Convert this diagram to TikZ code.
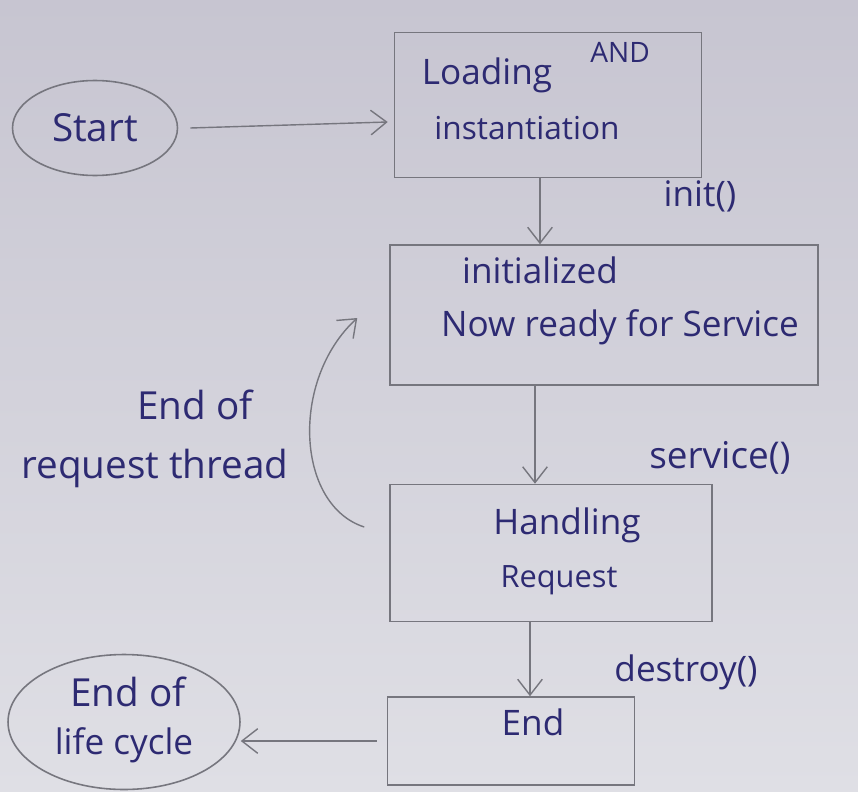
\documentclass[tikz,border=0pt]{standalone}
\usepackage{fontspec}
\setmainfont{Open Sans}
\usetikzlibrary{shapes.geometric,arrows.meta,calc}
\definecolor{papertop}{HTML}{C7C5D1}
\definecolor{paperbot}{HTML}{DFDFE5}
\definecolor{pencil}{HTML}{76767E}
\definecolor{ink}{HTML}{2D2A72}
\tikzset{
  box/.style={draw=pencil, line width=0.9pt, rectangle, inner sep=0pt},
  bubble/.style={draw=pencil, line width=0.9pt, ellipse, inner sep=0pt},
  word/.style={text=ink, inner sep=0pt, font=\fontsize{20}{24}\selectfont},
  arr/.style={draw=pencil, line width=0.8pt, -{Straight Barb[length=9pt,width=14pt]}},
}
\begin{document}
\begin{tikzpicture}[x=0.02cm,y=-0.02cm]
% paper
\shade[top color=papertop, bottom color=paperbot] (0,0) rectangle (858,791);
\useasboundingbox (0,0) rectangle (858,791);

% shapes
\node[bubble, minimum width=3.3cm, minimum height=1.9cm] (start) at (95,128) {};
\node[box, minimum width=6.14cm, minimum height=2.9cm] (load) at (548,105) {};
\node[box, minimum width=8.56cm, minimum height=2.8cm] (init) at (604,315) {};
\node[box, minimum width=6.44cm, minimum height=2.74cm] (handle) at (551,553) {};
\node[box, minimum width=4.94cm, minimum height=1.76cm] (endbox) at (511,741) {};
\node[bubble, minimum width=4.64cm, minimum height=2.7cm] (life) at (124,722) {};

% texts
\node[word, font=\fontsize{22}{26}\selectfont] (tstart) at (95,128) {Start};
\node[word] (tload) at (487,75) {Loading};
\node[word, font=\fontsize{16}{19}\selectfont] (tand) at (620,52) {AND};
\node[word, font=\fontsize{18}{22}\selectfont] (tinst) at (527,128) {instantiation};
\node[word] (tinit) at (540,270) {initialized};
\node[word] (tready) at (620,327) {Now ready for Service};
\node[word] (thand) at (567,525) {Handling};
\node[word, font=\fontsize{17.5}{20}\selectfont] (treq) at (559,580) {Request};
\node[word] (tend) at (533,722) {End};
\node[word, font=\fontsize{22}{26}\selectfont] (tlife1) at (128,692) {End of};
\node[word] (tlife2) at (124,745) {life cycle};
\node[word, font=\fontsize{22}{26}\selectfont] (tthr1) at (195,405) {End of};
\node[word, font=\fontsize{22}{26}\selectfont] (tthr2) at (155,468) {request thread};

% method labels
\node[word] (linit) at (700,196) {init()};
\node[word, font=\fontsize{21}{25}\selectfont] (lserv) at (720,458) {service()};
\node[word] (ldest) at (686,672) {destroy()};

% connector end points
\coordinate (s0) at ($(start.east)+(12,0)$);
\coordinate (s1) at ($(load.west)+(-6,17)$);
\coordinate (a0) at ($(load.south)+(-8,0)$);
\coordinate (b0) at ($(init.south)+(-69,0)$);
\coordinate (c0) at ($(handle.south)+(-21,0)$);
\coordinate (d0) at ($(endbox.west)+(-10,0)$);
\coordinate (r0) at ($(handle.west)+(-25,-26)$);
\coordinate (r1) at ($(init.west)+(-32,3)$);

% connectors
\draw[arr] (s0) -- (s1);
\draw[arr] (a0) -- (a0 |- init.north);
\draw[arr] (b0) -- (b0 |- handle.north);
\draw[arr] (c0) -- (c0 |- endbox.north);
\draw[arr] (d0) -- (life.east |- d0);
\draw[arr] (r0) .. controls (296,505) and (290,380) .. (r1);
\end{tikzpicture}
\end{document}
